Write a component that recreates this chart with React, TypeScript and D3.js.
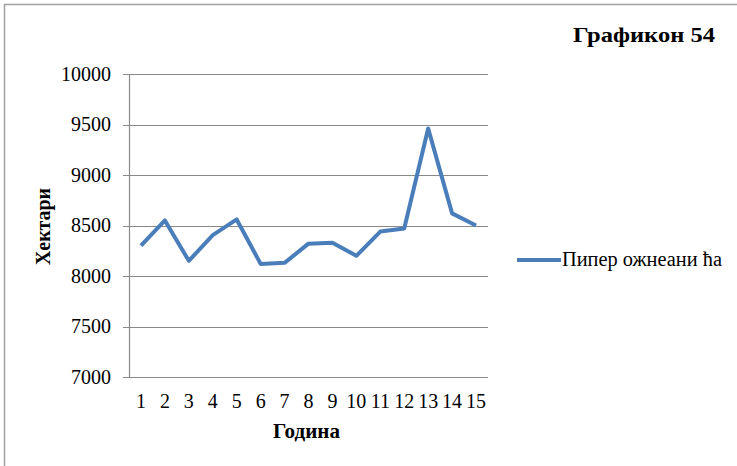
import React from "react";
import * as d3 from "d3";

const years = ["1","2","3","4","5","6","7","8","9","10","11","12","13","14","15"];
const values = [8300, 8550, 8150, 8405, 8560, 8120, 8130, 8320, 8330, 8200, 8440, 8470, 9460, 8620, 8500];
const yTicks = [7000, 7500, 8000, 8500, 9000, 9500, 10000];
const seriesName = "Пипер ожнеани ћа";
const title = "Графикон 54";
const xTitle = "Година";
const yTitle = "Хектари";

export default function App() {
  const W = 737, H = 466;
  const left = 129, right = 488, top = 74, bottom = 377;
  const x = d3.scaleBand<string>().domain(years).range([left, right]);
  const y = d3.scaleLinear().domain([7000, 10000]).range([bottom, top]);
  const line = d3.line<number>()
    .x((_, i) => (x(years[i]) as number) + x.bandwidth() / 2)
    .y((d) => y(d));
  const font = "'Liberation Serif', 'Times New Roman', 'DejaVu Serif', serif";
  const ts = { fontFamily: font } as React.CSSProperties;
  return (
    <div style={{ position: "absolute", left: 0, top: 0 }}>
      <svg width={W} height={H} style={{ display: "block", background: "#fff", fontFamily: font }}>
        <rect x={4.5} y={4.5} width={W + 10} height={H + 10} fill="#fff" stroke="#a0a0a0" strokeWidth={1.5} />
        {yTicks.map((t) => (
          <g key={t}>
            <line x1={left - 6} x2={right} y1={Math.round(y(t)) + 0.5} y2={Math.round(y(t)) + 0.5} stroke="#898989" strokeWidth={1.2} />
            <text x={111} y={y(t) + 6.5} textAnchor="end" style={ts} fontSize={20} fill="#000">{t}</text>
          </g>
        ))}
        <line x1={left + 0.5} x2={left + 0.5} y1={top} y2={bottom} stroke="#898989" strokeWidth={1.2} />
        {years.map((yr) => (
          <text key={yr} x={(x(yr) as number) + x.bandwidth() / 2} y={408} textAnchor="middle" style={ts} fontSize={20} fill="#000">{yr}</text>
        ))}
        <path d={line(values) || ""} fill="none" stroke="#4a7ebb" strokeWidth={4} strokeLinejoin="round" />
        <text x={306.5} y={438} textAnchor="middle" style={ts} fontSize={21} fontWeight="bold" textLength={67} lengthAdjust="spacingAndGlyphs">{xTitle}</text>
        <text transform={`translate(50,226.5) rotate(-90)`} textAnchor="middle" style={ts} fontSize={21} fontWeight="bold" textLength={77} lengthAdjust="spacingAndGlyphs">{yTitle}</text>
        <text x={573} y={42} style={ts} fontSize={22} fontWeight="bold" textLength={142} lengthAdjust="spacingAndGlyphs">{title}</text>
        <line x1={517} x2={561} y1={260} y2={260} stroke="#4a7ebb" strokeWidth={4} />
        <text x={562} y={266} style={ts} fontSize={20} textLength={160} lengthAdjust="spacingAndGlyphs">{seriesName}</text>
      </svg>
    </div>
  );
}
